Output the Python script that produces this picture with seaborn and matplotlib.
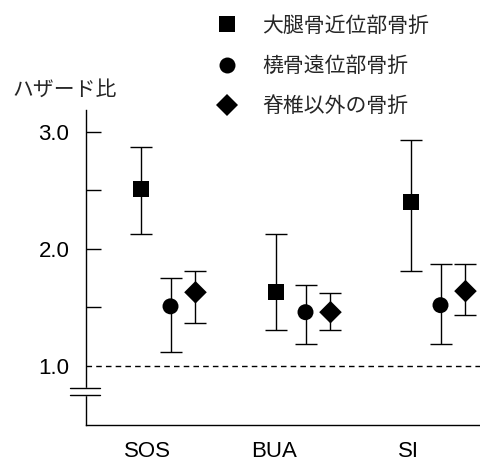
import numpy as np
import pandas as pd
import seaborn as sns
import matplotlib
matplotlib.use("Agg")
import matplotlib.pyplot as plt
from matplotlib.lines import Line2D

categories = ["SOS", "BUA", "SI"]
series = ["大腿骨近位部骨折", "橈骨遠位部骨折", "脊椎以外の骨折"]

hip_hr = [2.51, 1.63, 2.40]
hip_lo = [2.13, 1.31, 1.81]
hip_hi = [2.87, 2.13, 2.93]

wrist_hr = [1.51, 1.46, 1.52]
wrist_lo = [1.12, 1.19, 1.19]
wrist_hi = [1.75, 1.69, 1.87]

nonvert_hr = [1.63, 1.46, 1.64]
nonvert_lo = [1.37, 1.31, 1.44]
nonvert_hi = [1.81, 1.62, 1.87]

sns.set_theme(style="ticks")
plt.rcParams["font.family"] = ["Liberation Sans", "Noto Sans CJK JP"]

rows = []
for name, hr, lo, hi in zip(series,
                            [hip_hr, wrist_hr, nonvert_hr],
                            [hip_lo, wrist_lo, nonvert_lo],
                            [hip_hi, wrist_hi, nonvert_hi]):
    for i, c in enumerate(categories):
        rows.append({"cat": c, "idx": i, "series": name, "hr": hr[i], "lo": lo[i], "hi": hi[i]})
df = pd.DataFrame(rows)

offsets = {series[0]: -0.215, series[1]: 0.0, series[2]: 0.185}
markers = {series[0]: "s", series[1]: "o", series[2]: "D"}
df["x"] = df["idx"] + df["series"].map(offsets)

fig = plt.figure(figsize=(4.81, 4.62), dpi=100)
ax = fig.add_axes([86 / 481, 1 - 424.5 / 462, 1 - 86 / 481, (424.5 - 110) / 462])

for name in series:
    d = df[df["series"] == name]
    ax.errorbar(d["x"], d["hr"], yerr=[d["hr"] - d["lo"], d["hi"] - d["hr"]],
                fmt="none", ecolor="black", elinewidth=1.0, capsize=8.2, capthick=1.0, zorder=2)

sns.scatterplot(data=df, x="x", y="hr", style="series", markers=markers,
                color="black", s=11.5 ** 2, linewidth=0, ax=ax, legend=False, zorder=3)

ax.axhline(1.0, color="black", lw=1.0, dashes=(4, 3), zorder=1)

ax.set_xlim(-0.626, 2.3)
ax.set_ylim(0.5, 3.188)
ax.set_xticks(np.arange(len(categories)) + np.array([-0.17, -0.23, -0.24]))
ax.set_xticklabels(categories)
ax.set_yticks([1.0, 1.5, 2.0, 2.5, 3.0])
ax.set_yticklabels(["1.0", "", "2.0", "", "3.0"])
ax.yaxis.get_major_ticks()[0].tick1line.set_visible(False)
ax.tick_params(axis="y", direction="in", length=10.8, width=1.0, pad=12, labelsize=16, colors="black")
ax.tick_params(axis="x", length=0, pad=12, labelsize=16, colors="black")
ax.set_xlabel("")
ax.set_ylabel("")
sns.despine(ax=ax)
for s in ["left", "bottom"]:
    ax.spines[s].set_linewidth(1.0)
    ax.spines[s].set_color("black")

# axis break marks
ax.fill_between([-0.7, -0.55], 0.752, 0.812, color="white", clip_on=False, zorder=5)
for yb in [0.752, 0.812]:
    ax.plot([(70 - 170.5) / 135, (100 - 170.5) / 135], [yb, yb], color="black", lw=1.0,
            clip_on=False, zorder=6)

fig.text(12 / 481, 1 - 90 / 462, "ハザード比", fontsize=15, va="center", ha="left")

handles = [Line2D([], [], linestyle="none", marker=markers[n], color="black",
                  markersize=11.5, markeredgewidth=0) for n in series]
fig.legend(handles, series, loc="upper left", bbox_to_anchor=(216.5 / 481, 0.965),
           frameon=False, fontsize=15, handlelength=1.0, handletextpad=1.2,
           labelspacing=0.99, borderpad=0, borderaxespad=0)

fig.savefig("out.png", dpi=100)
